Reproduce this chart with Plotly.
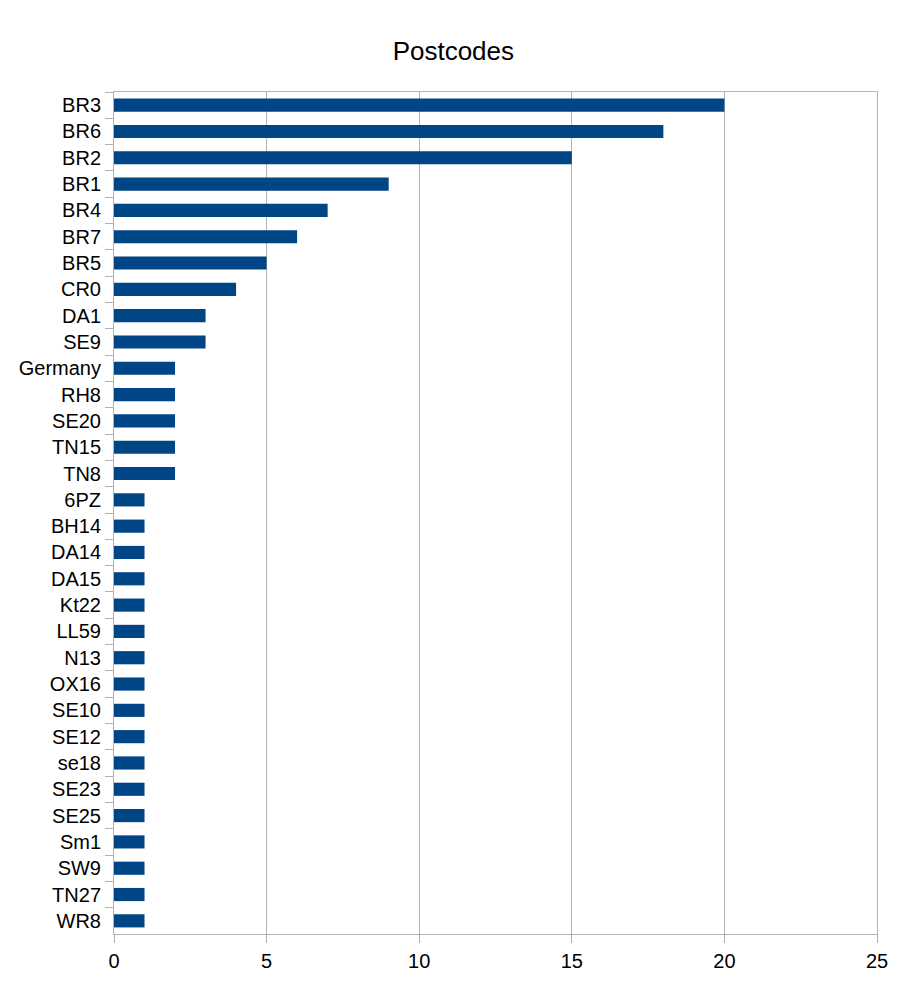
import plotly.graph_objects as go

# postcode counts (top to bottom)
postcodes = ["BR3", "BR6", "BR2", "BR1", "BR4", "BR7", "BR5", "CR0", "DA1", "SE9",
             "Germany", "RH8", "SE20", "TN15", "TN8", "6PZ", "BH14", "DA14", "DA15",
             "Kt22", "LL59", "N13", "OX16", "SE10", "SE12", "se18", "SE23", "SE25",
             "Sm1", "SW9", "TN27", "WR8"]
counts = [20, 18, 15, 9, 7, 6, 5, 4, 3, 3,
          2, 2, 2, 2, 2, 1, 1, 1, 1,
          1, 1, 1, 1, 1, 1, 1, 1, 1,
          1, 1, 1, 1]
x_ticks = [0, 5, 10, 15, 20, 25]

grey = "#b3b3b3"

fig = go.Figure()

fig.add_trace(go.Bar(
    x=counts,
    y=postcodes,
    orientation="h",
    width=0.5,
    marker=dict(color="#004586", line=dict(width=0)),
))

# the page adds 8px body margin, so margins are shifted to compensate
fig.update_layout(
    title=dict(text="Postcodes", x=0.491, xanchor="center", y=0.957, yanchor="middle",
               font=dict(size=26, color="#000000")),
    font=dict(family="Liberation Sans, Arial, sans-serif", size=20, color="#000000"),
    plot_bgcolor="white",
    paper_bgcolor="white",
    width=907,
    height=991,
    margin=dict(l=106, r=38, t=84, b=65),
    showlegend=False,
    bargap=0.5,
)

fig.update_xaxes(
    range=[0, 25],
    tickvals=x_ticks,
    showgrid=True,
    gridcolor=grey,
    gridwidth=1,
    zeroline=False,
    showline=True,
    linecolor=grey,
    linewidth=1,
    mirror=True,
    ticks="outside",
    ticklen=8,
    tickcolor=grey,
    ticklabelstandoff=1,
)

fig.update_yaxes(
    autorange="reversed",
    showgrid=False,
    showline=True,
    linecolor=grey,
    linewidth=1,
    mirror=True,
    ticks="outside",
    tickson="boundaries",
    ticklen=8,
    tickcolor=grey,
    ticklabelstandoff=8,
)

fig.write_html("out.html")
